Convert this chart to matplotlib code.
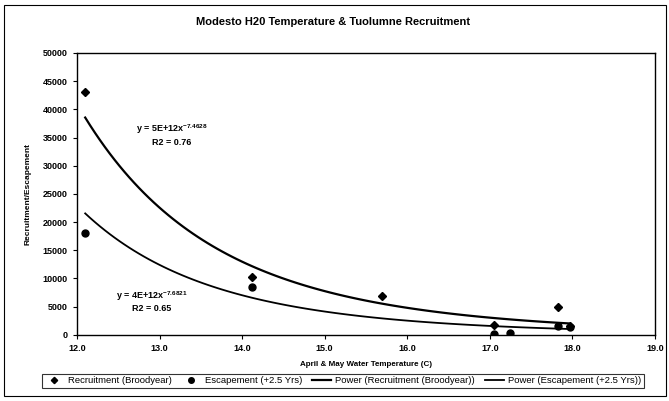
import numpy as np
from matplotlib import pyplot as plt
from matplotlib.patches import Rectangle

# April & May water temperature (C) vs counts
rec_temp = [12.1, 14.12, 15.7, 17.05, 17.83, 17.97]
rec_count = [43000, 10200, 6800, 1700, 5000, 1600]
esc_temp = [12.1, 14.12, 17.05, 17.24, 17.83, 17.97]
esc_count = [18000, 8500, 200, 300, 1500, 1400]

# power trendlines y = a * x^b (as shown on the chart)
rec_a, rec_b = 4.64e12, -7.4628
esc_a, esc_b = 4.48e12, -7.6821
rec_eq = 'y = 5E+12x$^{-7.4628}$'
rec_r2 = 'R2 = 0.76'
esc_eq = 'y = 4E+12x$^{-7.6821}$'
esc_r2 = 'R2 = 0.65'

x_ticks = [12.0, 13.0, 14.0, 15.0, 16.0, 17.0, 18.0, 19.0]
y_ticks = [0, 5000, 10000, 15000, 20000, 25000, 30000, 35000, 40000, 45000, 50000]

plt.rcParams['font.family'] = ['Liberation Sans', 'DejaVu Sans']
plt.rcParams['mathtext.fontset'] = 'custom'
plt.rcParams['mathtext.rm'] = 'Liberation Sans:bold'
plt.rcParams['mathtext.it'] = 'Liberation Sans:bold'

fig = plt.figure(figsize=(6.69, 4.01), dpi=100)
ax = fig.add_axes([0.115, 0.165, 0.864, 0.703])

ax.plot(rec_temp, rec_count, linestyle='none', marker='D', markersize=4,
        color='black', label='Recruitment (Broodyear)')
ax.plot(esc_temp, esc_count, linestyle='none', marker='o', markersize=5,
        color='black', label='Escapement (+2.5 Yrs)')

xr = np.linspace(min(rec_temp), max(rec_temp), 100)
ax.plot(xr, rec_a * xr ** rec_b, color='black', linewidth=1.6,
        label='Power (Recruitment (Broodyear))')
xe = np.linspace(min(esc_temp), max(esc_temp), 100)
ax.plot(xe, esc_a * xe ** esc_b, color='black', linewidth=1.3,
        label='Power (Escapement (+2.5 Yrs))')

ax.text(13.15, 36500, rec_eq, fontsize=6.5, fontweight='bold', ha='center', va='center')
ax.text(13.15, 34100, rec_r2, fontsize=6.5, fontweight='bold', ha='center', va='center')
ax.text(12.9, 6900, esc_eq, fontsize=6.5, fontweight='bold', ha='center', va='center')
ax.text(12.9, 4600, esc_r2, fontsize=6.5, fontweight='bold', ha='center', va='center')

ax.set_xlim(12.0, 19.0)
ax.set_ylim(0, 50000)
ax.set_xticks(x_ticks)
ax.set_xticklabels(['%.1f' % t for t in x_ticks])
ax.set_yticks(y_ticks)
ax.tick_params(axis='both', labelsize=6.5, length=3, width=0.8, direction='out')
for lbl in ax.get_xticklabels() + ax.get_yticklabels():
    lbl.set_fontweight('bold')
for s in ax.spines.values():
    s.set_linewidth(1.0)

ax.set_xlabel('April & May Water Temperature (C)', fontsize=5.8, fontweight='bold', labelpad=6)
ax.set_ylabel('Recruitment/Escapement', fontsize=6, fontweight='bold', labelpad=8)

fig.text(0.498, 0.945, 'Modesto H20 Temperature & Tuolumne Recruitment',
         fontsize=8, fontweight='bold', ha='center', va='center')

leg = fig.legend(loc='center left', bbox_to_anchor=(0.063, 0.05), ncol=4,
                 fontsize=6.8, frameon=True, fancybox=False, edgecolor='black',
                 handlelength=2.0, columnspacing=1.0, handletextpad=0.5,
                 borderpad=0.25, markerscale=0.8, borderaxespad=0)
leg.get_frame().set_linewidth(0.8)

# outer chart border
fig.patches.append(Rectangle((0.006, 0.012), 0.99, 0.975, transform=fig.transFigure,
                             fill=False, edgecolor='black', linewidth=0.8))

plt.savefig('out.png', dpi=100)
